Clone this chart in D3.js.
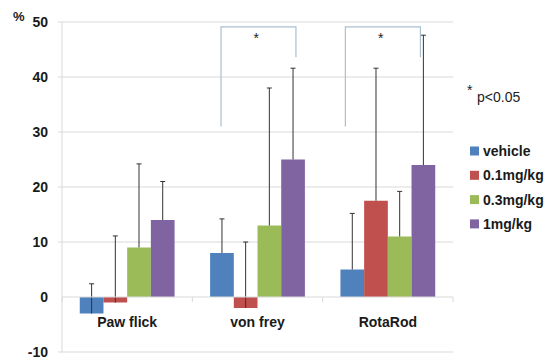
<!DOCTYPE html>
<html>
<head>
<meta charset="utf-8">
<script src="https://cdn.jsdelivr.net/npm/d3@7"></script>
<style>
  body { margin: 0; background: #fff; }
  svg text { font-family: "Liberation Sans", Arial, sans-serif; }
</style>
</head>
<body>
<svg id="chart" width="556" height="361"></svg>
<script>
var categories = ["Paw flick", "von frey", "RotaRod"];
var series = ["vehicle", "0.1mg/kg", "0.3mg/kg", "1mg/kg"];
var colors = ["#4f81bd", "#c0504d", "#9bbb59", "#8064a2"];

// mean values per series, in category order
var vehicle = [-3, 8, 5];
var dose01 = [-1, -2, 17.5];
var dose03 = [9, 13, 11];
var dose1 = [14, 25, 24];

// top of each error bar (value + SD), same order
var errVehicle = [2.4, 14.2, 15.2];
var err01 = [11.1, 10, 41.6];
var err03 = [24.2, 38, 19.2];
var err1 = [21, 41.6, 47.6];

var yTicks = [-10, 0, 10, 20, 30, 40, 50];

// significance brackets: legs as fraction of the category band,
// left leg bottom, top, right leg bottom (in %)
var brackets = [
    { cat: "von frey", from: 0.22, to: 0.795, left: 31, top: 49.1, right: 43.6, star: 0.49 },
    { cat: "RotaRod", from: 0.174, to: 0.75, left: 31, top: 49.1, right: 43.6, star: 0.445 }
];

var values = [vehicle, dose01, dose03, dose1];
var tops = [errVehicle, err01, err03, err1];

var svg = d3.select("#chart");
var margin = { left: 62, right: 103, top: 22, bottom: 9 };
var W = 556 - margin.left - margin.right,
    H = 361 - margin.top - margin.bottom;

var g = svg.append("g")
    .attr("transform", "translate(" + margin.left + "," + margin.top + ")");

var y = d3.scaleLinear().domain([-10, 50]).range([H, 0]);

var x0 = d3.scaleBand().domain(categories).range([0, W]);
var bw = x0.bandwidth() / 5.5;
var x1 = d3.scaleBand().domain(series)
    .range([bw * 0.75, x0.bandwidth() - bw * 0.75]);
var xf = d3.scaleLinear().domain([0, 1]).range([0, x0.bandwidth()]);

// gridlines
g.selectAll(".grid")
    .data(yTicks.filter(d => d != 0))
  .enter().append("line")
    .attr("x1", -4).attr("x2", W)
    .attr("y1", d => y(d)).attr("y2", d => y(d))
    .attr("stroke", "#d9d9d9").attr("stroke-width", 1);

// y axis line
g.append("line")
    .attr("x1", 0).attr("x2", 0).attr("y1", 0).attr("y2", H)
    .attr("stroke", "#d9d9d9");

g.selectAll(".ylab")
    .data(yTicks)
  .enter().append("text")
    .attr("x", -14).attr("y", d => y(d))
    .attr("dy", "0.35em")
    .attr("text-anchor", "end")
    .attr("font-size", 14).attr("font-weight", "bold")
    .attr("fill", "#1a1a1a")
    .text(d => d);

svg.append("text")
    .attr("x", 13).attr("y", 21)
    .attr("font-size", 13).attr("font-weight", "bold")
    .attr("fill", "#1a1a1a")
    .text("%");

// bars
var groups = g.selectAll(".cat")
    .data(categories)
  .enter().append("g")
    .attr("transform", d => "translate(" + x0(d) + ",0)");

groups.each(function(cat, ci) {
    var sel = d3.select(this);
    var rows = series.map((s, si) => ({ s: s, si: si, v: values[si][ci], e: tops[si][ci] }));

    sel.selectAll("rect")
        .data(rows)
      .enter().append("rect")
        .attr("x", d => x1(d.s))
        .attr("width", x1.bandwidth())
        .attr("y", d => y(Math.max(0, d.v)))
        .attr("height", d => Math.abs(y(d.v) - y(0)))
        .attr("fill", d => colors[d.si]);

    sel.selectAll(".err")
        .data(rows)
      .enter().append("line")
        .attr("x1", d => x1(d.s) + x1.bandwidth() / 2)
        .attr("x2", d => x1(d.s) + x1.bandwidth() / 2)
        .attr("y1", d => y(d.v)).attr("y2", d => y(d.e))
        .attr("stroke", "#333").attr("stroke-width", 1);

    sel.selectAll(".cap")
        .data(rows)
      .enter().append("line")
        .attr("x1", d => x1(d.s) + x1.bandwidth() / 2 - 2.5)
        .attr("x2", d => x1(d.s) + x1.bandwidth() / 2 + 2.5)
        .attr("y1", d => y(d.e)).attr("y2", d => y(d.e))
        .attr("stroke", "#333").attr("stroke-width", 1);
});

// zero axis with category ticks
g.append("line")
    .attr("x1", 0).attr("x2", W).attr("y1", y(0)).attr("y2", y(0))
    .attr("stroke", "#d9d9d9");

g.selectAll(".ctick")
    .data(categories.concat(["end"]))
  .enter().append("line")
    .attr("x1", (d, i) => i * x0.bandwidth())
    .attr("x2", (d, i) => i * x0.bandwidth())
    .attr("y1", y(0)).attr("y2", y(0) + 5)
    .attr("stroke", "#d9d9d9");

g.selectAll(".clab")
    .data(categories)
  .enter().append("text")
    .attr("x", d => x0(d) + x0.bandwidth() / 2)
    .attr("y", y(0) + 30)
    .attr("text-anchor", "middle")
    .attr("font-size", 14).attr("font-weight", "bold")
    .attr("fill", "#1a1a1a")
    .text(d => d);

// significance brackets
brackets.forEach(function(b) {
    var xl = x0(b.cat) + xf(b.from);
    var xr = x0(b.cat) + xf(b.to);
    g.append("path")
        .attr("d", "M" + xl + "," + y(b.left) + "V" + y(b.top) + "H" + xr + "V" + y(b.right))
        .attr("fill", "none")
        .attr("stroke", "#a9c0cf").attr("stroke-width", 1.2);
    g.append("text")
        .attr("x", x0(b.cat) + xf(b.star))
        .attr("y", y(b.top) + 16)
        .attr("text-anchor", "middle")
        .attr("font-size", 14)
        .attr("fill", "#222")
        .text("*");
});

// legend
var lg = svg.append("g").attr("transform", "translate(470,151)");
var item = lg.selectAll("g")
    .data(series)
  .enter().append("g")
    .attr("transform", (d, i) => "translate(0," + i * 24.3 + ")");
item.append("rect")
    .attr("x", 0).attr("y", -4.5).attr("width", 9).attr("height", 9)
    .attr("fill", (d, i) => colors[i]);
item.append("text")
    .attr("x", 13).attr("dy", "0.36em")
    .attr("font-size", 14).attr("font-weight", "bold")
    .attr("fill", "#1a1a1a")
    .text(d => d);

svg.append("text")
    .attr("x", 467).attr("y", 95)
    .attr("font-size", 14).attr("fill", "#222")
    .text("*");
svg.append("text")
    .attr("x", 477).attr("y", 102)
    .attr("font-size", 14).attr("fill", "#222")
    .text("p<0.05");
</script>
</body>
</html>
